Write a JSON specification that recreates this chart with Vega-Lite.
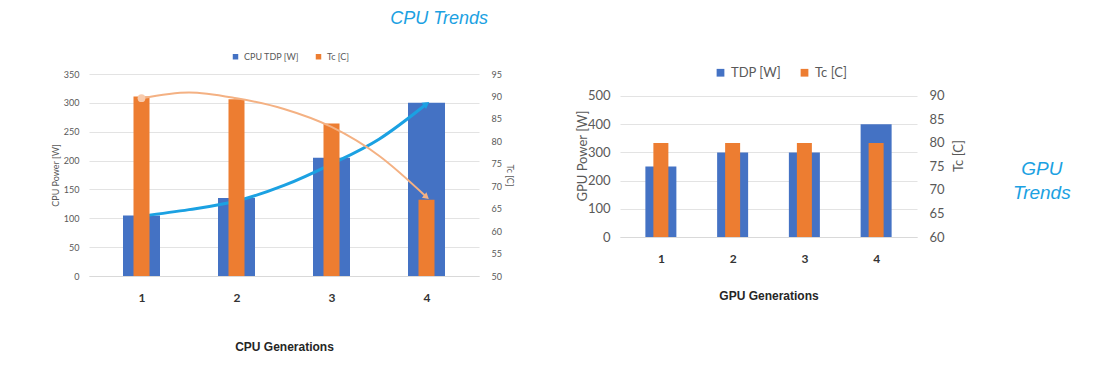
{
  "$schema": "https://vega.github.io/schema/vega-lite/v6.json",
  "background": "white",
  "padding": {"left": 51, "top": 10, "right": 30, "bottom": 10},
  "spacing": 62,
  "config": {
    "view": {"stroke": null},
    "font": "Lato",
    "axis": {"labelFont": "Lato", "titleFont": "Lato"},
    "legend": {"labelFont": "Lato"}
  },
  "resolve": {"scale": {"color": "independent"}, "legend": {"color": "independent"}},
  "datasets": {
    "cpu": [
      {"gen": 1, "tdp": 105, "tc": 90},
      {"gen": 2, "tdp": 135, "tc": 89.4},
      {"gen": 3, "tdp": 205, "tc": 84},
      {"gen": 4, "tdp": 300, "tc": 67}
    ],
    "cpuTdpFit": [
      {"gen": 1, "tdp": 104},
      {"gen": 1.5, "tdp": 115},
      {"gen": 2, "tdp": 130},
      {"gen": 2.5, "tdp": 157},
      {"gen": 3, "tdp": 194},
      {"gen": 3.5, "tdp": 237},
      {"gen": 4, "tdp": 298}
    ],
    "cpuTcFit": [
      {"gen": 1, "tc": 89.6},
      {"gen": 1.5, "tc": 90.9},
      {"gen": 2, "tc": 89.6},
      {"gen": 2.5, "tc": 87.2},
      {"gen": 3, "tc": 83.2},
      {"gen": 3.5, "tc": 76.8},
      {"gen": 4, "tc": 67.6}
    ],
    "gpu": [
      {"gen": 1, "tdp": 250, "tc": 80},
      {"gen": 2, "tdp": 300, "tc": 80},
      {"gen": 3, "tdp": 300, "tc": 80},
      {"gen": 4, "tdp": 400, "tc": 80}
    ]
  },
  "hconcat": [
    {
      "width": 390,
      "height": 202,
      "title": {
        "text": "CPU Trends",
        "anchor": "end",
        "frame": "group",
        "dx": 9,
        "offset": 24,
        "font": "Liberation Sans",
        "fontSize": 18,
        "fontStyle": "italic",
        "fontWeight": "normal",
        "color": "#1BA1E2"
      },
      "encoding": {
        "x": {
          "field": "gen",
          "type": "quantitative",
          "scale": {"domain": [0.5, 4.5], "nice": false, "zero": false},
          "axis": {
            "values": [1, 2, 3, 4],
            "format": "d",
            "grid": false,
            "ticks": false,
            "domainColor": "#D9D9D9",
            "labelFontSize": 12,
            "labelFontWeight": "bold",
            "labelColor": "#333333",
            "labelPadding": 16,
            "title": "CPU Generations",
            "titleFont": "Liberation Sans",
            "titleFontSize": 12,
            "titleFontWeight": "bold",
            "titleColor": "#262626",
            "titlePadding": 38
          }
        }
      },
      "layer": [
        {
          "encoding": {
            "y": {
              "field": "tdp",
              "type": "quantitative",
              "scale": {"domain": [0, 350], "nice": false},
              "axis": {
                "orient": "left",
                "values": [0, 50, 100, 150, 200, 250, 300, 350],
                "grid": true,
                "gridColor": "#E3E3E3",
                "domain": false,
                "ticks": false,
                "labelFontSize": 9,
                "labelColor": "#595959",
                "labelPadding": 10,
                "title": "CPU Power [W]",
                "titleFontSize": 9,
                "titleFontWeight": "normal",
                "titleColor": "#595959",
                "titlePadding": 3
              }
            }
          },
          "layer": [
            {
              "data": {"name": "cpu"},
              "mark": {"type": "bar", "size": 37},
              "encoding": {
                "color": {
                  "datum": "CPU TDP [W]",
                  "type": "nominal",
                  "scale": {"domain": ["CPU TDP [W]", "Tc [C]"], "range": ["#4472C4", "#ED7D31"]},
                  "legend": {
                    "title": null,
                    "orient": "none",
                    "direction": "horizontal",
                    "legendX": 142,
                    "legendY": -22,
                    "symbolType": "square",
                    "symbolSize": 30,
                    "labelFontSize": 9,
                    "labelColor": "#595959",
                    "columnPadding": 14
                  }
                }
              }
            },
            {
              "data": {"name": "cpuTdpFit"},
              "mark": {"type": "line", "interpolate": "monotone", "color": "#1BA1E2", "strokeWidth": 3}
            },
            {
              "data": {"name": "cpuTdpFit"},
              "transform": [{"filter": "datum.gen == 1"}],
              "mark": {"type": "point", "filled": true, "opacity": 1, "size": 80, "color": "#1BA1E2"}
            },
            {
              "data": {"name": "cpuTdpFit"},
              "transform": [{"filter": "datum.gen == 4"}],
              "mark": {"type": "point", "shape": "triangle-right", "angle": 324, "filled": true, "opacity": 1, "size": 60, "color": "#1BA1E2"}
            }
          ]
        },
        {
          "encoding": {
            "y": {
              "field": "tc",
              "type": "quantitative",
              "scale": {"domain": [50, 95], "nice": false, "zero": false},
              "axis": {
                "orient": "right",
                "values": [50, 55, 60, 65, 70, 75, 80, 85, 90, 95],
                "grid": false,
                "domain": false,
                "ticks": false,
                "labelFontSize": 9,
                "labelColor": "#595959",
                "labelPadding": 12,
                "title": "Tc [C]",
                "titleAngle": 90,
                "titleFontSize": 9,
                "titleFontWeight": "normal",
                "titleColor": "#595959",
                "titlePadding": 3
              }
            }
          },
          "layer": [
            {
              "data": {"name": "cpu"},
              "mark": {"type": "bar", "size": 16},
              "encoding": {
                "y2": {"datum": 50},
                "color": {"datum": "Tc [C]", "type": "nominal"}
              }
            },
            {
              "data": {"name": "cpuTcFit"},
              "mark": {"type": "line", "interpolate": "monotone", "color": "#F4B183", "strokeWidth": 2}
            },
            {
              "data": {"name": "cpuTcFit"},
              "transform": [{"filter": "datum.gen == 1"}],
              "mark": {"type": "point", "filled": true, "opacity": 1, "size": 60, "color": "#F8CBAD"}
            },
            {
              "data": {"name": "cpuTcFit"},
              "transform": [{"filter": "datum.gen == 4"}],
              "mark": {"type": "point", "shape": "triangle-right", "angle": 40, "filled": true, "opacity": 1, "size": 50, "color": "#F4B183"}
            }
          ]
        }
      ],
      "resolve": {"scale": {"y": "independent"}}
    },
    {
      "width": 297,
      "height": 163,
      "title": {
        "text": ["GPU", "Trends"],
        "orient": "right",
        "angle": 0,
        "anchor": "middle",
        "align": "center",
        "baseline": "middle",
        "offset": 19,
        "dy": 13,
        "font": "Liberation Sans",
        "fontSize": 19,
        "fontStyle": "italic",
        "fontWeight": "normal",
        "color": "#1BA1E2",
        "lineHeight": 24
      },
      "data": {"name": "gpu"},
      "encoding": {
        "x": {
          "field": "gen",
          "type": "quantitative",
          "scale": {"domain": [0.5, 4.5], "nice": false, "zero": false},
          "axis": {
            "values": [1, 2, 3, 4],
            "format": "d",
            "grid": false,
            "ticks": false,
            "domainColor": "#D9D9D9",
            "labelFontSize": 12,
            "labelFontWeight": "bold",
            "labelColor": "#333333",
            "labelPadding": 16,
            "title": "GPU  Generations",
            "titleFont": "Liberation Sans",
            "titleFontSize": 12,
            "titleFontWeight": "bold",
            "titleColor": "#262626",
            "titlePadding": 26
          }
        }
      },
      "layer": [
        {
          "mark": {"type": "bar", "size": 31},
          "encoding": {
            "y": {
              "field": "tdp",
              "type": "quantitative",
              "scale": {"domain": [0, 578], "nice": false},
              "axis": {
                "orient": "left",
                "values": [0, 100, 200, 300, 400, 500],
                "grid": true,
                "gridColor": "#E3E3E3",
                "domain": false,
                "ticks": false,
                "labelFontSize": 13,
                "labelColor": "#595959",
                "labelPadding": 10,
                "title": "GPU Power [W]",
                "titleFontSize": 13,
                "titleFontWeight": "normal",
                "titleColor": "#595959",
                "titlePadding": -2
              }
            },
            "color": {
              "datum": "TDP [W]",
              "type": "nominal",
              "scale": {"domain": ["TDP [W]", "Tc [C]"], "range": ["#4472C4", "#ED7D31"]},
              "legend": {
                "title": null,
                "orient": "none",
                "direction": "horizontal",
                "legendX": 94,
                "legendY": -8,
                "symbolType": "square",
                "symbolSize": 60,
                "labelFontSize": 13,
                "labelColor": "#595959",
                "columnPadding": 16
              }
            }
          }
        },
        {
          "mark": {"type": "bar", "size": 15},
          "encoding": {
            "y": {
              "field": "tc",
              "type": "quantitative",
              "scale": {"domain": [60, 94.68], "nice": false, "zero": false},
              "axis": {
                "orient": "right",
                "values": [60, 65, 70, 75, 80, 85, 90],
                "grid": false,
                "domain": false,
                "ticks": false,
                "labelFontSize": 13,
                "labelColor": "#595959",
                "labelPadding": 12,
                "title": "Tc [C]",
                "titleAngle": 270,
                "titleBaseline": "top",
                "titleFontSize": 13,
                "titleFontWeight": "normal",
                "titleColor": "#595959",
                "titlePadding": 8
              }
            },
            "y2": {"datum": 60},
            "color": {"datum": "Tc [C]", "type": "nominal"}
          }
        }
      ],
      "resolve": {"scale": {"y": "independent"}}
    }
  ]
}
